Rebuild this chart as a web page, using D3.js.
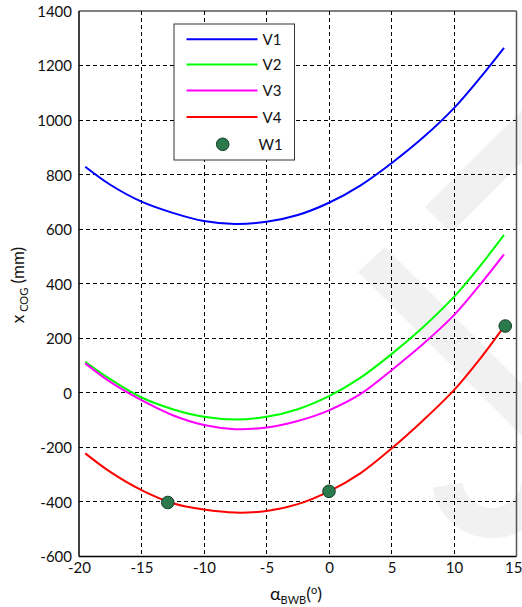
<!DOCTYPE html>
<html>
<head>
<meta charset="utf-8">
<script src="https://cdn.jsdelivr.net/npm/d3@7"></script>
<style>
  html, body { margin: 0; padding: 0; background: #fff; }
  svg { display: block; font-family: Lato, "Open Sans", sans-serif; }
</style>
</head>
<body>
<svg id="chart" width="522" height="607"></svg>
<script>
// ---- data ----
const alpha = [-19.5, -17.5, -15, -12.5, -10, -7.5, -5, -2.5, 0, 2.5, 5, 7.5, 10, 12, 14];
const V1 = [829, 763, 701, 660, 630, 619, 627, 652, 697, 760, 842, 935, 1044, 1150, 1265];
const V2 = [114, 50, -17, -60, -88, -98, -88, -60, -12, 55, 142, 240, 352, 460, 579];
const V3 = [108, 40, -27, -82, -118, -133, -127, -103, -64, -5, 83, 178, 285, 392, 508];
const V4 = [-222, -290, -357, -405, -428, -439, -433, -408, -361, -295, -204, -102, 10, 120, 243];
const W1x = [-12.9, 0, 14.1];
const W1y = [-402, -361, 245];
const xTicks = [-20, -15, -10, -5, 0, 5, 10, 15];
const yTicks = [-600, -400, -200, 0, 200, 400, 600, 800, 1000, 1200, 1400];
const seriesNames = ["V1", "V2", "V3", "V4"];
const seriesColors = ["#0000ff", "#00ff00", "#ff00ff", "#ff0000"];

const svg = d3.select("#chart");
const L = 79, R = 516.5, T = 11, B = 556.5;
const x = d3.scaleLinear().domain([-20, 15]).range([L, R]);
const y = d3.scaleLinear().domain([-600, 1400]).range([B, T]);

// ---- faint watermark in background ----
const wm = svg.append("g").attr("fill", "#f1f1f1");
wm.append("polygon").attr("points", "425,207 451,233 522,162 522,110");
wm.append("polygon").attr("points", "385,247 358,272 522,436 522,384");
wm.append("path")
  .attr("transform", "translate(492,478)")
  .attr("d", d3.arc().innerRadius(30).outerRadius(60)
    .startAngle(Math.PI * 0.45).endAngle(Math.PI * 1.45)());

// ---- grid ----
const grid = svg.append("g").attr("stroke", "#000").attr("stroke-width", 1)
  .attr("stroke-dasharray", "4,3").attr("shape-rendering", "crispEdges");
grid.selectAll(".gx").data(xTicks.slice(1, -1)).join("line")
  .attr("x1", d => x(d)).attr("x2", d => x(d)).attr("y1", T).attr("y2", B);
grid.selectAll(".gy").data(yTicks.slice(1, -1)).join("line")
  .attr("x1", L).attr("x2", R).attr("y1", d => y(d)).attr("y2", d => y(d));

// ---- axes (labels only, no tick marks) ----
const fmt = d => String(d);
const xAxis = svg.append("g").attr("transform", `translate(0,${B})`)
  .call(d3.axisBottom(x).tickValues(xTicks).tickSize(0).tickPadding(15).tickFormat(fmt));
const yAxis = svg.append("g").attr("transform", `translate(${L},0)`)
  .call(d3.axisLeft(y).tickValues(yTicks).tickSize(0).tickPadding(7).tickFormat(fmt));
[xAxis, yAxis].forEach(a => {
  a.select(".domain").remove();
  a.selectAll("text").attr("font-family", "Lato, 'Open Sans', sans-serif")
    .attr("font-size", 15).attr("fill", "#111");
});
xAxis.selectAll("text").attr("dy", "0.71em").attr("y", 6);
// keep the last label inside the window
xAxis.selectAll(".tick").filter(d => d === 15).select("text")
  .attr("text-anchor", "end").attr("x", 522 - R);
yAxis.selectAll("text").attr("dy", "0.36em");

// ---- plot frame ----
svg.append("line").attr("x1", L).attr("x2", R).attr("y1", T).attr("y2", T).attr("stroke", "#000").attr("stroke-width", 1.2);
svg.append("line").attr("x1", L).attr("x2", R).attr("y1", B).attr("y2", B).attr("stroke", "#000").attr("stroke-width", 1.5);
svg.append("line").attr("x1", L).attr("x2", L).attr("y1", T).attr("y2", B).attr("stroke", "#000").attr("stroke-width", 1.5);
svg.append("line").attr("x1", R).attr("x2", R).attr("y1", T).attr("y2", B).attr("stroke", "#555").attr("stroke-width", 1.5);

// ---- lines ----
const line = d3.line().x(d => x(d[0])).y(d => y(d[1])).curve(d3.curveCatmullRom);
[V1, V2, V3, V4].forEach((vals, i) => {
  svg.append("path")
    .datum(alpha.map((a, j) => [a, vals[j]]))
    .attr("fill", "none").attr("stroke", seriesColors[i]).attr("stroke-width", 2)
    .attr("d", line);
});

// ---- W1 points ----
svg.selectAll(".w1").data(W1x.map((a, j) => [a, W1y[j]])).join("circle")
  .attr("cx", d => x(d[0])).attr("cy", d => y(d[1])).attr("r", 6.3)
  .attr("fill", "#2b7a4e").attr("stroke", "#173d27").attr("stroke-width", 1);

// ---- legend ----
const lg = svg.append("g");
lg.append("rect").attr("x", 174).attr("y", 24).attr("width", 120.5).attr("height", 136)
  .attr("fill", "#fff").attr("stroke", "#333").attr("stroke-width", 1);
const rowY = [39.3, 64.5, 90.5, 117];
seriesNames.forEach((n, i) => {
  lg.append("line").attr("x1", 186.5).attr("x2", 257.5).attr("y1", rowY[i]).attr("y2", rowY[i])
    .attr("stroke", seriesColors[i]).attr("stroke-width", 2);
  lg.append("text").attr("x", 262.5).attr("y", rowY[i] + 5.5).attr("font-size", 15).attr("fill", "#111").text(n);
});
lg.append("circle").attr("cx", 222.7).attr("cy", 144.3).attr("r", 6.3)
  .attr("fill", "#2b7a4e").attr("stroke", "#173d27").attr("stroke-width", 1);
lg.append("text").attr("x", 258.5).attr("y", 149.8).attr("font-size", 15).attr("fill", "#111").text("W1");

// ---- axis titles ----
const xt = svg.append("text").attr("x", 296).attr("y", 600).attr("text-anchor", "middle")
  .attr("font-size", 18).attr("fill", "#111");
xt.append("tspan").text("α");
xt.append("tspan").attr("font-size", 11).attr("dy", 4).text("BWB");
xt.append("tspan").attr("dy", -4).text("(");
xt.append("tspan").attr("font-size", 11).attr("dy", -6).text("o");
xt.append("tspan").attr("dy", 6).text(")");

const yt = svg.append("text").attr("transform", "translate(24,285) rotate(-90)")
  .attr("text-anchor", "middle").attr("font-size", 17).attr("fill", "#111");
yt.append("tspan").text("x");
yt.append("tspan").attr("font-size", 11).attr("dy", 4).text(" COG");
yt.append("tspan").attr("dy", -4).text(" (mm)");
</script>
</body>
</html>
